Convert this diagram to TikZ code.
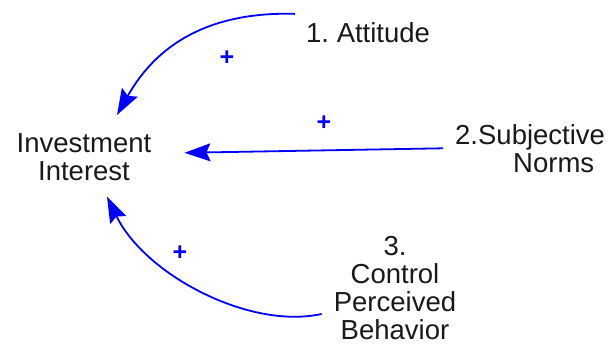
\documentclass[tikz,border=0pt]{standalone}
\usepackage{fontspec}
\setmainfont{Liberation Sans}
\usetikzlibrary{arrows.meta}
\definecolor{linkblue}{RGB}{0,0,255}
\definecolor{txt}{RGB}{25,25,25}
\frenchspacing
\begin{document}
\begin{tikzpicture}[x=1pt,y=-1pt,
  lbl/.style={inner sep=0pt,text=txt,font=\fontsize{27.5}{28}\selectfont},
  link/.style={draw=linkblue,line width=1.8pt,-{Stealth[length=26pt,width=18pt,inset=4pt]}},
  pol/.style={inner sep=0pt,text=linkblue,font=\fontsize{25}{25}\selectfont\bfseries}]
\useasboundingbox (0,0) rectangle (609,344);
\node[lbl,align=center,anchor=north] (ii) at (84,133) {Investment\\Interest};
\node[lbl,anchor=base west] (att) at (306,43) {1. Attitude};
\node[lbl,align=left,anchor=north west] (sn) at (455,124) {2.Subjective\\\hspace*{58pt}Norms};
\node[lbl,align=center,anchor=north] (cpb) at (395,236) {3.\\Control\\Perceived\\Behavior};
\draw[link] ([xshift=-11pt,yshift=9pt]att.north west) .. controls (230,12) and (165,30) .. ([xshift=33pt,yshift=18pt]ii.north);
\draw[link] ([xshift=-12pt]sn.west) -- ([xshift=33pt,yshift=4pt]ii.east);
\draw[link] ([xshift=-12pt,yshift=-26pt]cpb.west) .. controls (250,330) and (145,275) .. ([xshift=23pt,yshift=-16pt]ii.south);
\node[pol] (p1) at (227,58) {+};
\node[pol] (p2) at (324,123) {+};
\node[pol] (p3) at (180,253) {+};
\end{tikzpicture}
\end{document}
